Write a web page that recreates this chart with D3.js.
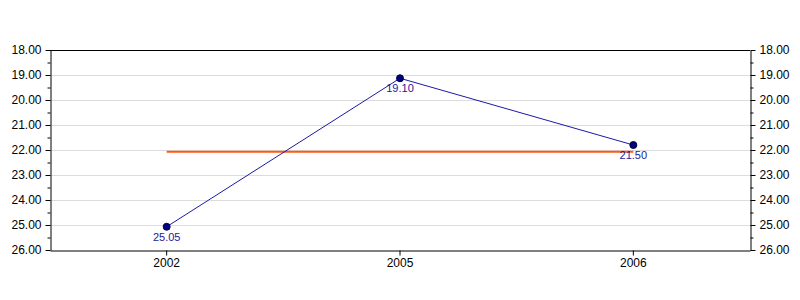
<!DOCTYPE html>
<html>
<head>
<meta charset="utf-8">
<script src="https://d3js.org/d3.v7.min.js"></script>
<style>
  body { margin: 0; background: #fff; }
  svg text { font-family: "Liberation Sans", Arial, sans-serif; }
  .grid line { stroke: #dcdcdc; }
</style>
</head>
<body>
<div id="chart"></div>
<script>
// values
var years = ["2002", "2005", "2006"];
var values = [25.07, 19.13, 21.8];
var valueLabels = ["25.05", "19.10", "21.50"];
var refValue = 22.07;
var yTicks = [18, 19, 20, 21, 22, 23, 24, 25, 26];
var yMinorTicks = [18.5, 19.5, 20.5, 21.5, 22.5, 23.5, 24.5, 25.5];

var margin = {top: 50, right: 50, bottom: 50, left: 50},
    width = 800 - margin.left - margin.right,
    height = 300 - margin.top - margin.bottom;

var svg = d3.select("#chart").append("svg")
  .attr("width", 800)
  .attr("height", 300);

var g = svg.append("g")
  .attr("transform", "translate(" + margin.left + "," + margin.top + ")");

// y is inverted: 18 at the top, 26 at the bottom
var y = d3.scaleLinear().domain([18, 26]).range([0, height]);
var x = d3.scaleBand().domain(years).range([0, width]);

// grid lines
g.append("g").attr("class", "grid")
  .selectAll("line")
  .data(yTicks.slice(1, -1))
  .enter().append("line")
  .attr("x1", 0).attr("x2", width)
  .attr("y1", function(d){ return Math.round(y(d)) + 0.5; })
  .attr("y2", function(d){ return Math.round(y(d)) + 0.5; });

// top border
g.append("line")
  .attr("x1", 0).attr("x2", width)
  .attr("y1", 0.5).attr("y2", 0.5)
  .attr("stroke", "#000");

var fmt = d3.format(".2f");

function styleAxis(sel){
  sel.selectAll("path").attr("stroke", "#000");
  sel.selectAll("line").attr("stroke", "#000");
  sel.selectAll("text").attr("fill", "#000").style("font-size", "12px");
}

// left axis
var yl = g.append("g")
  .attr("transform", "translate(0.5,0)")
  .call(d3.axisLeft(y).tickValues(yTicks).tickFormat(fmt).tickSize(5).tickSizeOuter(0).tickPadding(4));
styleAxis(yl);
yl.selectAll(".minor").data(yMinorTicks).enter().append("line")
  .attr("class", "minor")
  .attr("x1", -3).attr("x2", 0)
  .attr("y1", function(d){ return y(d) + 0.5; })
  .attr("y2", function(d){ return y(d) + 0.5; })
  .attr("stroke", "#000");

// right axis
var yr = g.append("g")
  .attr("transform", "translate(" + (width + 0.5) + ",0)")
  .call(d3.axisRight(y).tickValues(yTicks).tickFormat(fmt).tickSize(5).tickSizeOuter(0).tickPadding(4));
styleAxis(yr);
yr.selectAll(".minor").data(yMinorTicks).enter().append("line")
  .attr("class", "minor")
  .attr("x1", 0).attr("x2", 3)
  .attr("y1", function(d){ return y(d) + 0.5; })
  .attr("y2", function(d){ return y(d) + 0.5; })
  .attr("stroke", "#000");

// bottom axis
var xa = g.append("g")
  .attr("transform", "translate(0," + (height + 0.5) + ")")
  .call(d3.axisBottom(x).tickSize(5).tickSizeOuter(0).tickPadding(3));
styleAxis(xa);

// reference line
g.append("line")
  .attr("x1", x(years[0]) + x.bandwidth() / 2)
  .attr("x2", x(years[years.length - 1]) + x.bandwidth() / 2)
  .attr("y1", y(refValue))
  .attr("y2", y(refValue))
  .attr("stroke", "#ff5a14")
  .attr("stroke-width", 2);

var data = years.map(function(yr, i){
  return {year: yr, value: values[i], label: valueLabels[i]};
});

var line = d3.line()
  .x(function(d){ return x(d.year) + x.bandwidth() / 2; })
  .y(function(d){ return y(d.value); });

g.append("path")
  .datum(data)
  .attr("d", line)
  .attr("fill", "none")
  .attr("stroke", "#1a1aa8")
  .attr("stroke-width", 1);

g.selectAll(".dot")
  .data(data)
  .enter().append("circle")
  .attr("class", "dot")
  .attr("cx", function(d){ return x(d.year) + x.bandwidth() / 2; })
  .attr("cy", function(d){ return y(d.value); })
  .attr("r", 3.5)
  .attr("fill", "#000080")
  .attr("stroke", "#000040");

g.selectAll(".val-label")
  .data(data)
  .enter().append("text")
  .attr("class", "val-label")
  .attr("x", function(d){ return x(d.year) + x.bandwidth() / 2; })
  .attr("y", function(d){ return y(d.value) + 14; })
  .attr("text-anchor", "middle")
  .style("font-size", "11px")
  .attr("fill", "#1a1a9a")
  .text(function(d){ return d.label; });
</script>
</body>
</html>
